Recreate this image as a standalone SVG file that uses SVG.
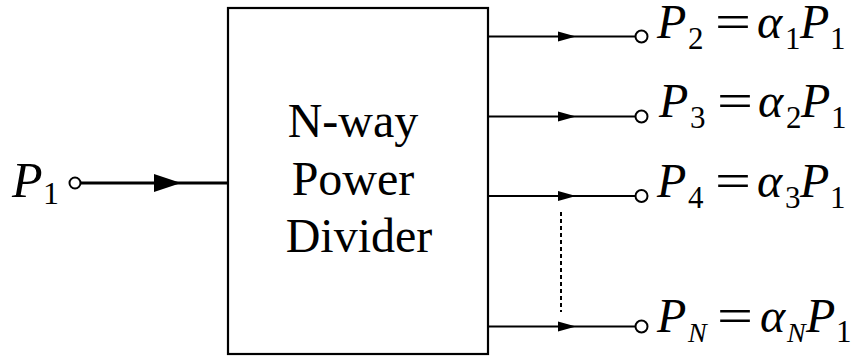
<svg xmlns="http://www.w3.org/2000/svg" width="853" height="356" viewBox="0 0 853 356">
  <style>
    .wire { stroke: #000; stroke-width: 2.2; fill: none; }
    .feed { stroke: #000; stroke-width: 3.2; fill: none; }
    .port { stroke: #000; stroke-width: 2; fill: #fff; }
    .head { fill: #000; stroke: none; }
    .box { stroke: #000; stroke-width: 2.2; fill: #fff; }
    text { font-family: "Liberation Serif", "Times New Roman", "DejaVu Serif", serif; fill: #000; }
    .it { font-style: italic; }
    .big { font-size: 48px; }
    .sub { font-size: 31px; }
  </style>
  <rect width="853" height="356" fill="#fff"/>

  <!-- divider block -->
  <g id="divider">
    <rect class="box" x="228" y="8" width="260" height="346"/>
    <text font-size="48" text-anchor="middle">
      <tspan x="359" y="137">N-way</tspan>
      <tspan x="359" y="195">Power</tspan>
      <tspan x="359" y="252">Divider</tspan>
    </text>
  </g>

  <!-- feed lines -->
  <g id="connectors">
    <line class="feed" x1="81" y1="183" x2="229" y2="183"/>
    <polygon class="head" points="181,183 154,174 154,192"/>

    <line class="wire" x1="488" y1="36.5" x2="636" y2="36.5"/>
    <polygon class="head" points="576,36.5 558,31.5 558,41.5"/>
    <line class="wire" x1="488" y1="116.5" x2="636" y2="116.5"/>
    <polygon class="head" points="576,116.5 558,111.5 558,121.5"/>
    <line class="wire" x1="488" y1="196" x2="636" y2="196"/>
    <polygon class="head" points="576,196 558,191 558,201"/>
    <line class="wire" x1="488" y1="326.5" x2="636" y2="326.5"/>
    <polygon class="head" points="576,326.5 558,321.5 558,331.5"/>

    <line x1="561" y1="212" x2="561" y2="312" stroke="#000" stroke-width="2" stroke-dasharray="4,3"/>
  </g>

  <!-- input port -->
  <g id="port-in">
    <circle class="port" cx="75" cy="183" r="5.5"/>
    <text class="it" font-size="50" x="12" y="197">P</text>
    <text font-size="32" x="43" y="204">1</text>
  </g>

  <!-- output ports -->
  <g id="port-2">
    <circle class="port" cx="641.5" cy="36.5" r="6"/>
    <text class="it big" x="657" y="38">P</text>
    <text class="sub" x="688" y="49">2</text>
    <text class="big" x="715" y="38" textLength="36" lengthAdjust="spacingAndGlyphs">=</text>
    <text class="it big" x="757" y="38">α</text>
    <text class="sub" x="785" y="49">1</text>
    <text class="it big" x="800" y="38">P</text>
    <text class="sub" x="830" y="49">1</text>
  </g>

  <g id="port-3">
    <circle class="port" cx="641.5" cy="116.5" r="6"/>
    <text class="it big" x="659" y="117">P</text>
    <text class="sub" x="690" y="128">3</text>
    <text class="big" x="717" y="117" textLength="36" lengthAdjust="spacingAndGlyphs">=</text>
    <text class="it big" x="758" y="117">α</text>
    <text class="sub" x="786" y="128">2</text>
    <text class="it big" x="801" y="117">P</text>
    <text class="sub" x="831" y="128">1</text>
  </g>

  <g id="port-4">
    <circle class="port" cx="641.5" cy="196" r="6"/>
    <text class="it big" x="657" y="197">P</text>
    <text class="sub" x="688" y="208">4</text>
    <text class="big" x="715" y="197" textLength="36" lengthAdjust="spacingAndGlyphs">=</text>
    <text class="it big" x="757" y="197">α</text>
    <text class="sub" x="785" y="208">3</text>
    <text class="it big" x="800" y="197">P</text>
    <text class="sub" x="830" y="208">1</text>
  </g>

  <g id="port-N">
    <circle class="port" cx="641.5" cy="326.5" r="6"/>
    <text class="it big" x="657" y="332">P</text>
    <text class="it" font-size="28" x="688" y="342">N</text>
    <text class="big" x="717" y="332" textLength="36" lengthAdjust="spacingAndGlyphs">=</text>
    <text class="it big" x="760" y="332">α</text>
    <text class="it" font-size="28" x="787" y="342">N</text>
    <text class="it big" x="806" y="332">P</text>
    <text class="sub" x="836" y="342">1</text>
  </g>
</svg>
